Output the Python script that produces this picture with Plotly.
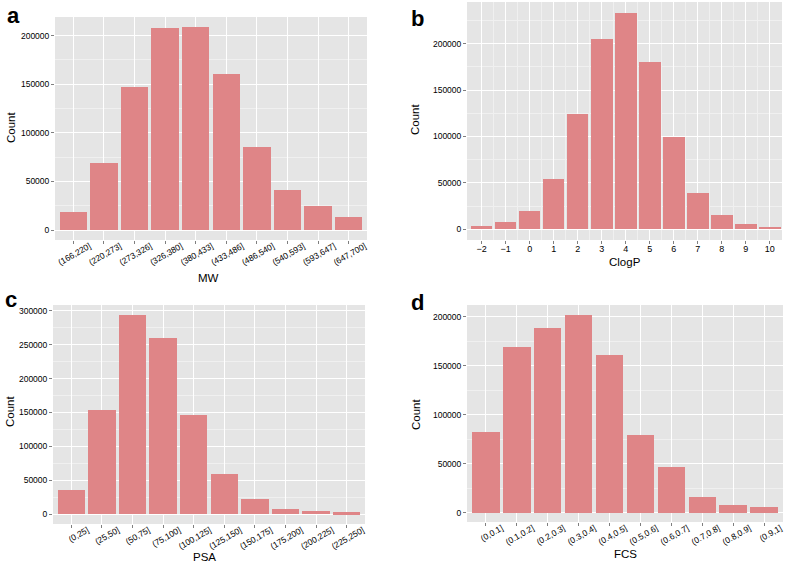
import plotly.graph_objects as go

# ---- data ----
mw_bins = ["(166,220]", "(220,273]", "(273,326]", "(326,380]", "(380,433]",
           "(433,486]", "(486,540]", "(540,593]", "(593,647]", "(647,700]"]
mw_counts = [18200, 68900, 147100, 207500, 208900, 160800, 85400, 41500, 24400, 13700]

clogp_vals = [-2, -1, 0, 1, 2, 3, 4, 5, 6, 7, 8, 9, 10]
clogp_counts = [3600, 7900, 20100, 54200, 124300, 204700, 233100, 180300, 99100, 39200, 15500, 6100, 2500]

psa_bins = ["(0,25]", "(25,50]", "(50,75]", "(75,100]", "(100,125]",
            "(125,150]", "(150,175]", "(175,200]", "(200,225]", "(225,250]"]
psa_counts = [35400, 154200, 293200, 259300, 145900, 59900, 22100, 8300, 4900, 2900]

fcs_bins = ["(0,0.1]", "(0.1,0.2]", "(0.2,0.3]", "(0.3,0.4]", "(0.4,0.5]",
            "(0.5,0.6]", "(0.6,0.7]", "(0.7,0.8]", "(0.8,0.9]", "(0.9,1]"]
fcs_counts = [82700, 169000, 188800, 201400, 160500, 78900, 46900, 16000, 8200, 6100]

BAR = "#DF8587"
BG = "#E5E5E5"
FONT = "Liberation Sans, Arial, sans-serif"

fig = go.Figure()

panels = [
    dict(x=mw_bins, y=mw_counts, xa="x", ya="y"),
    dict(x=clogp_vals, y=clogp_counts, xa="x2", ya="y2"),
    dict(x=psa_bins, y=psa_counts, xa="x3", ya="y3"),
    dict(x=fcs_bins, y=fcs_counts, xa="x4", ya="y4"),
]
for p in panels:
    fig.add_trace(go.Bar(x=p["x"], y=p["y"], xaxis=p["xa"], yaxis=p["ya"],
                         width=0.9, marker=dict(color=BAR, line=dict(width=0)),
                         showlegend=False, hoverinfo="x+y"))

W, H = 787, 565
def dx(a, b):
    return [a / W, b / W]
def dy(top, bot):
    return [1 - bot / H, 1 - top / H]

tickfont = dict(family=FONT, size=8.5, color="#000")
rotfont = dict(family=FONT, size=8.5, color="#000")

common_x = dict(showgrid=True, gridcolor="white", gridwidth=1.2, zeroline=False,
                ticks="outside", ticklen=3, tickcolor="#7f7f7f", tickfont=tickfont,
                showline=False, fixedrange=True, automargin=False)
common_y = dict(showgrid=True, gridcolor="white", gridwidth=1.2, zeroline=False,
                ticks="outside", ticklen=3, tickcolor="#7f7f7f", tickfont=tickfont,
                showline=False, tickformat="d", automargin=False, fixedrange=True)
rot_x = dict(common_x, type="category", range=[-0.6, 9.6], tickangle=-30,
             tickfont=rotfont, ticklabelshift=16, ticklabelstandoff=-6)

def minor(vals):
    return dict(showgrid=True, gridcolor="#F0F0F0", gridwidth=0.6, tickvals=vals, ticks="")

layout = dict(
    width=W, height=H, margin=dict(l=0, r=0, t=0, b=0),
    paper_bgcolor="white", plot_bgcolor=BG, bargap=0,
    font=dict(family=FONT),
    xaxis=dict(rot_x, domain=dx(55, 367), anchor="y"),
    yaxis=dict(common_y, domain=dy(17, 240), anchor="x", range=[-10290, 219130],
               tickvals=[0, 50000, 100000, 150000, 200000],
               minor=minor([25000, 75000, 125000, 175000])),
    xaxis2=dict(common_x, domain=dx(467, 782), anchor="y2", range=[-2.61, 10.51],
                tickvals=clogp_vals, tickfont=dict(family=FONT, size=9, color="#000"),
                ticklabelstandoff=-3,
                minor=minor([v + 0.5 for v in clogp_vals[:-1]])),
    yaxis2=dict(common_y, domain=dy(2, 240), anchor="x2", range=[-11530, 244940],
                tickvals=[0, 50000, 100000, 150000, 200000],
                minor=minor([25000, 75000, 125000, 175000, 225000])),
    xaxis3=dict(rot_x, domain=dx(53, 365), anchor="y3"),
    yaxis3=dict(common_y, domain=dy(305, 524), anchor="x3", range=[-14290, 308340],
                tickvals=[0, 50000, 100000, 150000, 200000, 250000, 300000],
                minor=minor([25000, 75000, 125000, 175000, 225000, 275000])),
    xaxis4=dict(rot_x, domain=dx(467, 783), anchor="y4"),
    yaxis4=dict(common_y, domain=dy(305, 522), anchor="x4", range=[-9490, 211940],
                tickvals=[0, 50000, 100000, 150000, 200000],
                minor=minor([25000, 75000, 125000, 175000])),
)
fig.update_layout(**layout)

def ann(text, px, py, size, angle=0, bold=False, xanchor="center", yanchor="middle"):
    fig.add_annotation(text=("<b>%s</b>" % text) if bold else text,
                       x=px / W, y=1 - py / H, xref="paper", yref="paper",
                       xanchor=xanchor, yanchor=yanchor, showarrow=False, textangle=angle,
                       font=dict(family=FONT, size=size, color="#000"))

# panel letters
ann("a", 5, 1, 22, bold=True, xanchor="left", yanchor="top")
ann("b", 409, 4, 22, bold=True, xanchor="left", yanchor="top")
ann("c", 3, 285, 22, bold=True, xanchor="left", yanchor="top")
ann("d", 409, 288, 22, bold=True, xanchor="left", yanchor="top")

# axis titles
ann("Count", 11, 128, 11.5, angle=-90)
ann("Count", 415, 120, 11.5, angle=-90)
ann("Count", 10, 412, 11.5, angle=-90)
ann("Count", 416, 415, 11.5, angle=-90)
ann("MW", 209, 278, 11.5)
ann("ClogP", 625, 262, 11.5)
ann("PSA", 204, 557, 11.5)
ann("FCS", 625, 554, 11.5)

fig.write_html("out.html", config={"displayModeBar": False},
               post_script="document.body.style.margin='0';document.body.style.overflow='hidden';")
